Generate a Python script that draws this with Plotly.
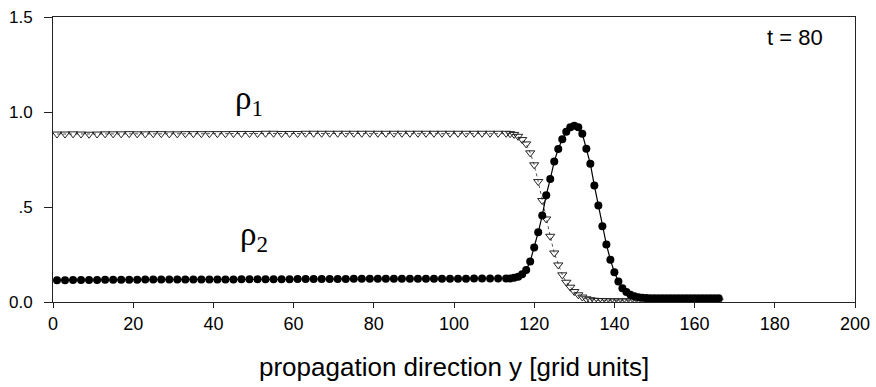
import plotly.graph_objects as go

# grid positions (sparse sampling in the plateau, dense in the front)
x_sparse = list(range(1, 114, 2))
x_dense = list(range(114, 167))
x_all = x_sparse + x_dense

# rho_2 (filled circles)
rho2_sparse = [0.115, 0.115, 0.116, 0.116, 0.116, 0.116, 0.117, 0.117, 0.117, 0.117,
               0.117, 0.118, 0.118, 0.118, 0.118, 0.118, 0.118, 0.119, 0.119, 0.119,
               0.119, 0.119, 0.119, 0.120, 0.120, 0.120, 0.120, 0.120, 0.120, 0.120,
               0.121, 0.121, 0.121, 0.121, 0.121, 0.121, 0.121, 0.122, 0.122, 0.122,
               0.122, 0.122, 0.122, 0.122, 0.122, 0.123, 0.123, 0.123, 0.123, 0.123,
               0.123, 0.123, 0.124, 0.124, 0.124, 0.124, 0.124]
rho2_dense = [0.124, 0.127, 0.133, 0.146, 0.168, 0.213, 0.287, 0.367, 0.455, 0.562,
              0.647, 0.740, 0.805, 0.857, 0.896, 0.920, 0.928, 0.920, 0.885, 0.806,
              0.727, 0.613, 0.508, 0.399, 0.303, 0.222, 0.157, 0.108, 0.073, 0.052,
              0.038, 0.030, 0.025, 0.022, 0.021, 0.020, 0.020, 0.020, 0.020, 0.020,
              0.020, 0.020, 0.020, 0.020, 0.020, 0.020, 0.020, 0.020, 0.020, 0.020,
              0.020, 0.020, 0.020]

# rho_1 (open triangles)
rho1_sparse = [0.884, 0.884, 0.885, 0.884, 0.883, 0.884, 0.885, 0.885, 0.885, 0.886,
               0.885, 0.885, 0.886, 0.886, 0.885, 0.885, 0.886, 0.886, 0.886, 0.886,
               0.886, 0.886, 0.887, 0.887, 0.887, 0.887, 0.888, 0.888, 0.887, 0.887,
               0.887, 0.888, 0.888, 0.888, 0.888, 0.888, 0.888, 0.888, 0.888, 0.888,
               0.888, 0.888, 0.888, 0.888, 0.888, 0.888, 0.888, 0.888, 0.888, 0.888,
               0.888, 0.888, 0.888, 0.888, 0.888, 0.888, 0.888]
rho1_dense = [0.886, 0.882, 0.872, 0.855, 0.832, 0.785, 0.722, 0.634, 0.534, 0.437,
              0.346, 0.258, 0.195, 0.143, 0.104, 0.078, 0.055, 0.038, 0.026, 0.017,
              0.012, 0.009, 0.008, 0.007, 0.007, 0.006, 0.006, 0.006, 0.006, 0.006,
              0.006, 0.006, 0.006, 0.006, 0.006, 0.006, 0.006, 0.006, 0.006, 0.006,
              0.006, 0.006, 0.006, 0.006, 0.006, 0.006, 0.006, 0.006, 0.006, 0.006,
              0.006, 0.006, 0.006]

rho1 = rho1_sparse + rho1_dense
rho2 = rho2_sparse + rho2_dense

x_ticks = list(range(0, 201, 20))
y_ticks = [0.0, 0.5, 1.0, 1.5]
y_tick_labels = ["0.0", ".5", "1.0", "1.5"]
x_title = "propagation direction y [grid units]"

SANS = "Liberation Sans, Arial, Helvetica, sans-serif"
SERIF = "Liberation Serif, Times New Roman, serif"
AX = "#222222"

fig = go.Figure()
fig.add_trace(go.Scatter(
    x=x_all, y=rho1, mode="lines+markers", name="rho1",
    line=dict(color="#555555", width=1, dash="dot"),
    marker=dict(symbol="triangle-down-open", size=8, color="#222222",
                line=dict(width=1, color="#222222")),
))
fig.add_trace(go.Scatter(
    x=x_all, y=rho2, mode="lines+markers", name="rho2",
    line=dict(color="black", width=1.2),
    marker=dict(symbol="circle", size=8, color="black"),
))

fig.add_annotation(x=49, y=1.06, text="ρ<sub>1</sub>", showarrow=False,
                   font=dict(family=SERIF, size=33, color="black"))
fig.add_annotation(x=50, y=0.345, text="ρ<sub>2</sub>", showarrow=False,
                   font=dict(family=SERIF, size=33, color="black"))
fig.add_annotation(x=192.5, y=1.393, text="t = 80", showarrow=False,
                   xanchor="right", font=dict(family=SANS, size=22, color="black"))
fig.add_annotation(x=0.5, xref="paper", y=-0.228, yref="paper", yanchor="middle",
                   text=x_title, showarrow=False,
                   font=dict(family=SANS, size=26, color="black"))

fig.update_layout(
    width=876, height=387,
    margin=dict(l=53, r=21, t=17, b=85, autoexpand=False),
    paper_bgcolor="white", plot_bgcolor="white",
    showlegend=False,
    font=dict(family=SANS, color="black"),
    xaxis=dict(range=[0, 200], tickvals=x_ticks, ticks="outside", ticklen=5,
               tickcolor=AX, showline=True, linecolor=AX, linewidth=1,
               mirror=True, showgrid=False, zeroline=False, automargin=False,
               tickfont=dict(size=18, family=SANS)),
    yaxis=dict(range=[0, 1.5], tickvals=y_ticks, ticktext=y_tick_labels,
               ticks="outside", ticklen=8, tickcolor=AX, showline=True,
               linecolor=AX, linewidth=1, mirror=True, showgrid=False,
               zeroline=False, automargin=False,
               tickfont=dict(size=17, family=SANS),
               ticklabelstandoff=8),
)

fig.write_html("out.html", config={"displayModeBar": False},
               post_script="document.body.style.margin='0';document.body.style.padding='0';")
